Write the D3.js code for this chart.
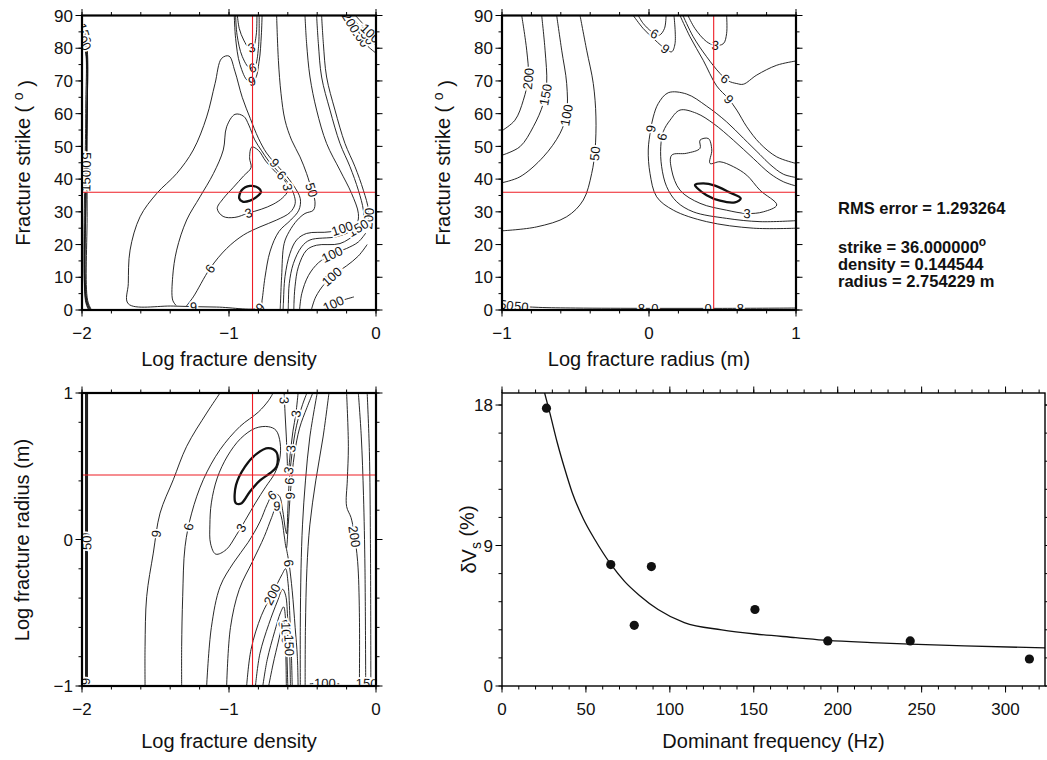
<!DOCTYPE html>
<html><head><meta charset="utf-8">
<script src="https://cdn.jsdelivr.net/npm/d3@7/dist/d3.min.js"></script>
<style>
html,body{margin:0;padding:0;background:#fff;}
svg{display:block;font-family:"Liberation Sans",Arial,Helvetica,sans-serif;}
</style></head><body>
<svg id="chart" width="1047" height="760"></svg>
<script>
// ---------------- data ----------------
const bestStrike = 36.0;
const bestDensity = 0.144544;
const bestRadius = 2.754229;
const rmsError = 1.293264;

const densityTicks = [-2, -1, 0];
const radiusTicks = [-1, 0, 1];
const strikeTicks = [0, 10, 20, 30, 40, 50, 60, 70, 80, 90];
const freqTicks = [0, 50, 100, 150, 200, 250, 300];
const dvsTicks = [0, 9, 18];

// observed shear-wave anisotropy vs dominant frequency
const freqObs = [26.5, 64.8, 78.8, 89.0, 150.7, 194.1, 243.2, 314.2];
const dvsObs  = [17.8, 7.78, 3.89, 7.65, 4.90, 2.89, 2.89, 1.73];
// best-fit model curve
const fitFreq = [25.4, 28.5, 32.9, 37.4, 41.8, 48.5, 55.2, 64.8, 73.0, 81.9, 93.0, 108.6, 130.9, 150.9, 175.0, 194.1, 219.9, 243.2, 275.5, 323.5];
const fitDvs  = [18.77, 17.5, 15.6, 13.9, 12.4, 10.7, 9.4, 7.8, 6.7, 5.8, 4.9, 4.06, 3.6, 3.33, 3.1, 2.92, 2.78, 2.68, 2.57, 2.44];

// misfit contours: [level, [[x, y], ...]]
const strikeDensityContours = [
  [1.5, [[-0.930,34.1],[-0.914,36.6],[-0.857,37.9],[-0.800,37.3],[-0.782,36.1],[-0.812,34.6],[-0.857,33.4],[-0.907,33.1],[-0.930,34.1]]],
  [3, [[-1.08,31],[-1.04,28.6],[-0.96,28.3],[-0.87,29.6],[-0.78,30.8],[-0.70,32.3],[-0.635,34.3],[-0.60,36.5],[-0.62,39.5],[-0.68,42],[-0.75,45.5],[-0.80,48.8],[-0.845,49.8],[-0.86,46.5],[-0.85,43.5],[-0.90,41],[-0.97,37.5],[-1.04,34],[-1.08,31]]],
  [6, [[-1.29,1.2],[-1.243,4.0],[-1.129,12.7],[-1.016,18.8],[-0.902,22.9],[-0.789,25.4],[-0.676,27.5],[-0.585,29.8],[-0.55,32.5],[-0.56,35.5],[-0.60,39],[-0.67,42.5],[-0.73,45.5],[-0.78,48.8],[-0.825,52],[-0.865,56.5],[-0.90,59.2],[-0.959,59.8],[-1.016,56.0],[-1.039,48.9],[-1.106,41.7],[-1.197,34.6],[-1.288,27.5],[-1.356,18.3],[-1.383,10.2],[-1.383,3.0],[-1.36,1.4]]],
  [9, [[-0.785,0.8],[-1.084,0.9],[-1.379,1.2],[-1.685,1.9],[-1.685,8.1],[-1.673,18.3],[-1.605,28.5],[-1.492,35.6],[-1.356,41.7],[-1.243,48.9],[-1.152,59.0],[-1.095,69.2],[-1.050,76.9],[-1.0,77.6],[-0.96,73],[-0.91,65],[-0.855,58.5],[-0.80,52.5],[-0.745,48],[-0.69,45],[-0.625,41.8],[-0.56,38],[-0.515,34],[-0.525,30.5],[-0.58,27.5],[-0.66,24],[-0.72,18],[-0.755,10],[-0.775,3],[-0.785,0.8]]],
  [3, [[-0.943,90],[-0.93,86],[-0.90,82.5],[-0.865,80.2],[-0.835,80.5],[-0.815,84],[-0.81,90]]],
  [6, [[-0.955,90],[-0.945,84],[-0.91,77.5],[-0.86,74],[-0.825,74.5],[-0.80,80],[-0.795,90]]],
  [9, [[-0.964,90],[-0.955,83],[-0.925,75],[-0.87,70],[-0.825,70.5],[-0.795,76],[-0.78,84],[-0.775,90]]],
  [50, [[-0.676,90],[-0.664,76.3],[-0.646,66.1],[-0.619,58.0],[-0.574,51.9],[-0.517,46.8],[-0.472,41.7],[-0.437,36.6],[-0.415,33.1],[-0.426,30.5],[-0.483,29.5],[-0.535,27.5],[-0.59,24],[-0.625,20.3],[-0.642,10.2],[-0.650,2.0],[-0.652,0]]],
  [100, [[-0.483,90],[-0.472,81.4],[-0.449,71.2],[-0.404,61.1],[-0.336,50.9],[-0.245,42.7],[-0.166,35.6],[-0.120,29.5],[-0.131,26.5],[-0.199,25.4],[-0.313,23.9],[-0.472,23.4],[-0.540,21.4],[-0.585,17.3],[-0.619,10.2],[-0.630,2.0],[-0.632,0]]],
  [150, [[-0.404,90],[-0.392,81.4],[-0.370,71.2],[-0.313,61.1],[-0.245,50.9],[-0.177,43.8],[-0.120,36.6],[-0.086,30.5],[-0.086,26.5],[-0.154,24.4],[-0.268,22.4],[-0.449,21.4],[-0.506,19.3],[-0.562,14.2],[-0.590,8.1],[-0.596,2.0],[-0.597,0]]],
  [200, [[-0.370,90],[-0.358,81.4],[-0.336,71.2],[-0.279,61.1],[-0.211,50.9],[-0.143,43.8],[-0.086,36.6],[-0.052,30.5],[-0.063,25.9],[-0.131,23.4],[-0.245,20.3],[-0.404,19.8],[-0.472,18.3],[-0.528,13.2],[-0.551,7.1],[-0.558,2.0],[-0.559,0]]],
  [200, [[-0.20,90],[-0.13,85],[-0.065,81],[0,78.5]]],
  [150, [[-0.17,90],[-0.10,86],[-0.04,82.5],[0,81]]],
  [100, [[-0.14,90],[-0.08,87],[-0.025,84],[0,83.5]]],
  [300, [[-0.52,0],[-0.505,5],[-0.46,10.5],[-0.39,14.5],[-0.30,17],[-0.20,18.8],[-0.12,20.8],[-0.07,23.5]]],
  [500, [[-0.44,0],[-0.41,4],[-0.35,8],[-0.28,11],[-0.20,13.5],[-0.12,16.5],[-0.06,20]]],
  [1000, [[-0.36,0],[-0.31,1.5],[-0.24,2.8],[-0.15,4]]],
  [50, [[-1.935,0],[-1.962,3],[-1.965,30],[-1.965,60],[-1.962,78],[-1.975,83],[-1.995,86]]],
  [100, [[-1.945,0],[-1.970,3],[-1.972,40],[-1.970,78],[-1.985,82],[-2.0,83]]],
  [150, [[-1.955,0],[-1.977,3],[-1.978,80],[-2.0,81.5]]],
  [200, [[-1.950,0],[-1.974,3],[-1.975,60],[-1.976,79],[-2.0,82.2]]],
  [250, [[-1.940,0],[-1.967,3],[-1.968,50],[-1.967,79],[-1.99,84]]]
];
// labels: [contour index, x, y, text]
const strikeDensityLabels = [
  [3,-1.243,1.0,"9"],[2,-1.129,12.7,"6"],[1,-0.87,29.6,"3"],
  [4,-0.85,80.3,"3"],[5,-0.84,74.1,"6"],[6,-0.845,70.1,"9"],
  [7,-0.437,36.6,"50"],[3,-0.69,45.0,"9"],[2,-0.64,41.2,"6"],[1,-0.605,37.5,"3"],
  [10,-0.06,28,"200"],[9,-0.12,25,"150"],[8,-0.23,24.7,"100"],
  [14,-0.30,17,"100"],[15,-0.30,10.8,"200"],[15,-0.31,10.6,"100"],[16,-0.29,1.6,"100"],
  [11,-0.10,83.7,"200"],[12,-0.065,84.4,"150"],[13,-0.04,84.6,"100"],[11,-0.17,88,"200"],
  [17,-1.965,46,"50"],[18,-1.971,42.5,"100"],[19,-1.978,39.5,"150"],[17,-1.975,84.5,"150"],[18,-1.99,82.6,"100"],
  [3,-0.79,0.8,"9"]
];

const strikeRadiusContours = [
  [1.5, [[0.313,38.2],[0.369,38.7],[0.449,38.0],[0.540,36.1],[0.624,34.1],[0.585,32.9],[0.483,33.4],[0.392,35.1],[0.329,37.2],[0.313,38.2]]],
  [3, [[0.154,47.3],[0.256,47.9],[0.347,49.4],[0.347,51.9],[0.404,52.4],[0.427,48.9],[0.415,44.8],[0.483,45.3],[0.574,43.8],[0.665,41.2],[0.755,36.6],[0.869,32.1],[0.778,30.0],[0.665,29.5],[0.528,30.5],[0.347,32.6],[0.211,36.6],[0.154,42.8],[0.154,47.3]]],
  [6, [[1.0,37.9],[0.914,39.2],[0.823,41.7],[0.710,46.3],[0.574,51.9],[0.438,57.0],[0.324,60.1],[0.211,61.1],[0.143,58.0],[0.097,54.5],[0.080,49.9],[0.086,43.8],[0.120,37.7],[0.188,33.1],[0.301,30.0],[0.528,28.0],[0.755,27.0],[1.0,27.3]]],
  [9, [[1.0,40.5],[0.914,41.5],[0.823,44.5],[0.755,47.5],[0.642,52.5],[0.528,57.5],[0.392,62.3],[0.256,66.0],[0.131,66.4],[0.063,63.1],[0.029,59.0],[0.011,55.0],[-0.005,48.9],[0.007,41.7],[0.052,34.6],[0.166,30.5],[0.392,27.0],[0.710,25.0],[1.0,25.0]]],
  [6, [[-0.073,90],[-0.04,87.6],[0.02,85.0],[0.07,84.0],[0.105,86.0],[0.116,90]]],
  [9, [[-0.107,90],[-0.039,86.0],[0.041,82.5],[0.109,79.9],[0.154,78.9],[0.177,81.4],[0.170,90]]],
  [3, [[0.265,90],[0.313,86.0],[0.392,82.0],[0.449,80.9],[0.506,81.4],[0.528,84.5],[0.528,90]]],
  [6, [[0.231,90],[0.301,83.5],[0.392,77.4],[0.483,72.3],[0.540,70.0],[0.597,69.2],[0.642,69.0],[0.733,71.8],[0.869,74.8],[1.0,76.1]]],
  [9, [[0.211,90],[0.279,83.5],[0.369,76.3],[0.460,68.5],[0.540,64.6],[0.597,61.1],[0.665,56.0],[0.755,50.9],[0.869,46.8],[1.0,44.8]]],
  [200, [[-0.866,90],[-0.832,79.4],[-0.821,71.3],[-0.855,64.1],[-0.912,58.0],[-1.0,54.8]]],
  [150, [[-0.730,90],[-0.707,79.4],[-0.696,69.2],[-0.719,63.1],[-0.787,56.0],[-0.878,49.9],[-1.0,47.3]]],
  [100, [[-0.628,90],[-0.594,79.4],[-0.560,69.2],[-0.560,60.1],[-0.605,54.0],[-0.719,46.8],[-0.878,40.7],[-1.0,38.9]]],
  [50, [[-0.469,90],[-0.424,79.4],[-0.379,69.2],[-0.361,59.0],[-0.367,48.9],[-0.390,41.7],[-0.447,33.6],[-0.560,28.5],[-0.764,25.4],[-1.0,24.2]]],
  [50, [[-1.0,1.8],[-0.9,1.2],[-0.75,0.8],[-0.5,0.6],[0,0.5],[0.5,0.5],[1.0,0.6]]]
];
const strikeRadiusLabels = [
  [1,0.665,29.5,"3"],[2,0.086,52.9,"6"],[3,0.011,55.5,"9"],[4,0.04,84.5,"6"],[5,0.11,79.9,"9"],
  [6,0.45,80.9,"3"],[7,0.52,70.8,"6"],[8,0.55,64.6,"9"],
  [9,-0.81,70.6,"200"],[10,-0.70,65.7,"150"],[11,-0.56,59.6,"100"],[12,-0.367,47.8,"50"],
  [13,-0.87,1.3,"50"],[13,-0.97,1.6,"50"],[13,-0.05,0.5,"8"],[13,0.04,0.5,"0"],[13,0.40,0.5,"0"],[13,0.62,0.5,"8"]
];

const radiusDensityContours = [
  [1.5, [[-0.959,0.259],[-0.952,0.373],[-0.891,0.498],[-0.812,0.585],[-0.733,0.624],[-0.676,0.594],[-0.676,0.498],[-0.721,0.453],[-0.789,0.403],[-0.857,0.328],[-0.914,0.248],[-0.948,0.244],[-0.959,0.259]]],
  [3, [[-0.732,0.77],[-0.68,0.745],[-0.652,0.66],[-0.655,0.55],[-0.69,0.45],[-0.75,0.36],[-0.82,0.25],[-0.89,0.13],[-0.95,0.03],[-1.02,-0.07],[-1.09,-0.10],[-1.125,-0.03],[-1.13,0.10],[-1.12,0.25],[-1.08,0.42],[-1.01,0.57],[-0.92,0.69],[-0.82,0.76],[-0.732,0.77]]],
  [6, [[-1.322,-1],[-1.322,-0.731],[-1.315,-0.390],[-1.299,-0.048],[-1.254,0.180],[-1.175,0.408],[-1.061,0.613],[-0.925,0.772],[-0.80,0.87],[-0.73,0.95],[-0.70,1.0]]],
  [9, [[-1.571,-1],[-1.571,-0.731],[-1.560,-0.390],[-1.515,-0.093],[-1.469,0.180],[-1.379,0.408],[-1.288,0.636],[-1.152,0.863],[-1.061,1.0]]],
  [6, [[-1.152,-1],[-1.12,-0.6],[-1.06,-0.32],[-0.97,-0.16],[-0.87,-0.02],[-0.79,0.12],[-0.74,0.24],[-0.70,0.31],[-0.66,0.30],[-0.635,0.2],[-0.618,0.08],[-0.608,0.04],[-0.600,0.2],[-0.59,0.4],[-0.57,0.6],[-0.54,0.78],[-0.50,0.92],[-0.47,1.0]]],
  [9, [[-1.016,-1],[-0.99,-0.6],[-0.93,-0.34],[-0.84,-0.15],[-0.76,0.02],[-0.71,0.15],[-0.675,0.23],[-0.645,0.16],[-0.625,0.03],[-0.610,-0.06],[-0.597,0.1],[-0.58,0.35],[-0.555,0.58],[-0.52,0.76],[-0.47,0.9],[-0.43,1.0]]],
  [3, [[-0.625,1],[-0.618,0.85],[-0.61,0.7],[-0.604,0.55],[-0.600,0.45],[-0.592,0.5],[-0.58,0.62],[-0.565,0.74],[-0.545,0.86],[-0.53,1]]],
  [200, [[-0.88,-1],[-0.85,-0.75],[-0.78,-0.52],[-0.70,-0.36],[-0.64,-0.24],[-0.615,-0.2],[-0.598,-0.3],[-0.585,-0.55],[-0.575,-0.8],[-0.57,-1]]],
  [150, [[-0.82,-1],[-0.79,-0.78],[-0.73,-0.58],[-0.67,-0.42],[-0.635,-0.34],[-0.615,-0.38],[-0.60,-0.55],[-0.588,-0.75],[-0.582,-1]]],
  [100, [[-0.77,-1],[-0.74,-0.82],[-0.69,-0.63],[-0.65,-0.5],[-0.628,-0.46],[-0.615,-0.55],[-0.607,-0.75],[-0.60,-1]]],
  [50, [[-0.73,-1],[-0.70,-0.85],[-0.665,-0.7],[-0.64,-0.6],[-0.625,-0.58],[-0.617,-0.68],[-0.612,-0.85],[-0.61,-1]]],
  [6, [[-0.61,-0.06],[-0.592,-0.16],[-0.57,-0.35],[-0.55,-0.6],[-0.535,-0.8],[-0.53,-1]]],
  [200, [[-0.20,1],[-0.188,0.636],[-0.195,0.408],[-0.20,0.226],[-0.17,0.15],[-0.15,0.05],[-0.125,-0.15],[-0.113,-0.5],[-0.113,-1]]],
  [100, [[-0.40,1],[-0.45,0.7],[-0.48,0.4],[-0.50,0.1],[-0.51,-0.2],[-0.515,-0.6],[-0.515,-1]]],
  [150, [[-0.32,1],[-0.36,0.7],[-0.41,0.4],[-0.45,0.1],[-0.47,-0.2],[-0.48,-0.6],[-0.482,-1]]],
  [150, [[-0.12,1],[-0.10,0.7],[-0.085,0.3],[-0.075,-0.2],[-0.07,-1]]],
  [100, [[-0.06,1],[-0.045,0.6],[-0.038,0],[-0.035,-1]]],
  [50, [[-1.976,-1],[-1.976,1]]],
  [100, [[-1.970,-1],[-1.968,1]]],
  [150, [[-1.963,-1],[-1.962,1]]],
  [150, [[-0.45,-0.985],[-0.35,-0.98],[-0.25,-0.985]]],
  [100, [[-0.12,-0.985],[-0.06,-0.98],[0,-0.985]]],
  [200, [[-1.973,-1],[-1.972,1]]],
  [250, [[-1.966,-1],[-1.965,1]]]
];
const radiusDensityLabels = [
  [1,-0.937,0.089,"3"],[2,-1.288,0.089,"6"],[3,-1.515,0.043,"9"],[4,-0.72,0.317,"6"],[5,-0.671,0.237,"9"],
  [6,-0.55,0.86,"3"],[6,-0.58,0.62,"3"],[6,-0.62,0.95,"3"],
  [5,-0.585,0.30,"9"],[4,-0.592,0.40,"6"],[6,-0.598,0.47,"3"],
  [7,-0.676,-0.39,"200"],[10,-0.615,-0.6,"50"],[9,-0.61,-0.64,"100"],[8,-0.588,-0.72,"150"],
  [11,-0.585,-0.162,"6"],[12,-0.154,0.02,"200"],
  [17,-1.97,0.0,"60"],[18,-1.968,-0.02,"50"],[17,-1.97,-0.97,"9"],
  [20,-0.347,-0.98,"150"],[20,-0.35,-0.98,"100"],[21,-0.063,-0.98,"100"],[21,-0.04,-0.98,"50"]
];

// ---------------- rendering ----------------
const svg = d3.select("#chart");
const RED = "#ee1c25";
const fmtNum = v => (v < 0 ? "\u2212" + Math.abs(v) : String(v));
let clipId = 0;

function drawFrame(g, xs, ys, w, h, xMaj, xMinStep, yMaj, yMinStep, sw) {
  const t = g.append("g").attr("stroke", "#000").attr("stroke-width", 1);
  const [x0, x1] = xs.domain(), [y0, y1] = ys.domain();
  const xMin = d3.range(0, Math.floor((x1 - x0) / xMinStep + 1e-6) + 1).map(i => x0 + i * xMinStep);
  const yMin = d3.range(0, Math.floor((y1 - y0) / yMinStep + 1e-6) + 1).map(i => y0 + i * yMinStep);
  const seg = (a, b, c, d) => t.append("line").attr("x1", a).attr("y1", b).attr("x2", c).attr("y2", d);
  xMin.forEach(v => { const p = xs(v); seg(p, h, p, h + 3.5); seg(p, 0, p, -3.5); });
  yMin.forEach(v => { const p = ys(v); seg(0, p, -3.5, p); seg(w, p, w + 3.5, p); });
  xMaj.forEach(v => { const p = xs(v); seg(p, h, p, h + 6.5); seg(p, 0, p, -6.5); });
  yMaj.forEach(v => { const p = ys(v); seg(0, p, -6.5, p); seg(w, p, w + 6.5, p); });
  const lab = g.append("g").attr("font-size", 17).attr("fill", "#111");
  xMaj.forEach(v => lab.append("text").attr("x", xs(v)).attr("y", h + 29).attr("text-anchor", "middle").text(fmtNum(v)));
  yMaj.forEach(v => lab.append("text").attr("x", -9).attr("y", ys(v)).attr("dy", "0.36em").attr("text-anchor", "end").text(fmtNum(v)));
  g.append("rect").attr("width", w).attr("height", h).attr("fill", "none").attr("stroke", "#000").attr("stroke-width", sw);
}

function clipGroup(g, w, h) {
  const id = "clip" + (clipId++);
  svg.append("defs").append("clipPath").attr("id", id).append("rect").attr("width", w).attr("height", h);
  return g.append("g").attr("clip-path", `url(#${id})`);
}

function contourPanel(cfg) {
  const g = svg.append("g").attr("transform", `translate(${cfg.left},${cfg.top})`);
  const xs = d3.scaleLinear().domain(cfg.xd).range([0, cfg.w]);
  const ys = d3.scaleLinear().domain(cfg.yd).range([cfg.h, 0]);
  const inner = clipGroup(g, cfg.w, cfg.h);
  const openLine = d3.line().x(d => xs(d[0])).y(d => ys(d[1])).curve(d3.curveCatmullRom.alpha(0.5));
  const closedLine = d3.line().x(d => xs(d[0])).y(d => ys(d[1])).curve(d3.curveCatmullRomClosed.alpha(0.5));
  const nodes = cfg.contours.map(([lev, pts]) => {
    const f = pts[0], l = pts[pts.length - 1];
    const closed = pts.length > 3 && f[0] === l[0] && f[1] === l[1];
    const dstr = closed ? closedLine(pts.slice(0, -1)) : openLine(pts);
    return inner.append("path").attr("d", dstr).attr("fill", "none")
      .attr("stroke", "#111").attr("stroke-width", lev < 2 ? 2.3 : 0.9)
      .attr("stroke-linejoin", "round").node();
  });
  const lg = inner.append("g").attr("font-size", 13).attr("fill", "#111");
  cfg.labels.forEach(([i, lx, ly, txt]) => {
    const node = nodes[i];
    const L = node.getTotalLength();
    const tx = xs(lx), ty = ys(ly);
    let best = 0, bd = Infinity;
    for (let s = 0; s <= L; s += 0.75) {
      const p = node.getPointAtLength(s);
      const d = (p.x - tx) ** 2 + (p.y - ty) ** 2;
      if (d < bd) { bd = d; best = s; }
    }
    const p = node.getPointAtLength(best);
    const a = node.getPointAtLength(Math.max(0, best - 5));
    const b = node.getPointAtLength(Math.min(L, best + 5));
    let ang = Math.atan2(b.y - a.y, b.x - a.x) * 180 / Math.PI;
    if (ang > 90) ang -= 180;
    if (ang < -90) ang += 180;
    lg.append("text").attr("transform", `translate(${p.x},${p.y}) rotate(${ang})`)
      .attr("text-anchor", "middle").attr("dy", "0.36em")
      .attr("stroke", "#fff").attr("stroke-width", 3.5).attr("paint-order", "stroke")
      .text(txt);
  });
  inner.append("line").attr("x1", xs(cfg.best[0])).attr("x2", xs(cfg.best[0])).attr("y1", 0).attr("y2", cfg.h)
    .attr("stroke", RED).attr("stroke-width", 1.1);
  inner.append("line").attr("y1", ys(cfg.best[1])).attr("y2", ys(cfg.best[1])).attr("x1", 0).attr("x2", cfg.w)
    .attr("stroke", RED).attr("stroke-width", 1.1);
  drawFrame(g, xs, ys, cfg.w, cfg.h, cfg.xMaj, cfg.xMin, cfg.yMaj, cfg.yMin, 2.2);
  return g;
}

function xTitle(x, y, txt) {
  svg.append("text").attr("x", x).attr("y", y).attr("text-anchor", "middle").attr("font-size", 20).attr("fill", "#111").text(txt);
}
function yTitle(x, y) {
  return svg.append("text").attr("transform", `translate(${x},${y}) rotate(-90)`).attr("text-anchor", "middle")
    .attr("font-size", 20).attr("fill", "#111");
}
function strikeTitle(x, y) {
  const t = yTitle(x, y);
  t.append("tspan").text("Fracture strike ( ");
  t.append("tspan").attr("font-size", 14).attr("dy", "-0.5em").text("o");
  t.append("tspan").attr("dy", "0.5em").text(" )");
}

const logD = Math.log10(bestDensity), logR = Math.log10(bestRadius);

contourPanel({left: 82, top: 15.5, w: 294, h: 294.5, xd: [-2, 0], yd: [0, 90],
  xMaj: densityTicks, xMin: 0.2, yMaj: strikeTicks, yMin: 5,
  contours: strikeDensityContours, labels: strikeDensityLabels, best: [logD, bestStrike]});
xTitle(229, 366, "Log fracture density");
strikeTitle(30, 163);

contourPanel({left: 502, top: 15.5, w: 294, h: 294.5, xd: [-1, 1], yd: [0, 90],
  xMaj: radiusTicks, xMin: 0.2, yMaj: strikeTicks, yMin: 5,
  contours: strikeRadiusContours, labels: strikeRadiusLabels, best: [logR, bestStrike]});
xTitle(649, 366, "Log fracture radius (m)");
strikeTitle(450, 163);

contourPanel({left: 82, top: 393, w: 294, h: 293, xd: [-2, 0], yd: [-1, 1],
  xMaj: densityTicks, xMin: 0.2, yMaj: radiusTicks, yMin: 0.2,
  contours: radiusDensityContours, labels: radiusDensityLabels, best: [logD, logR]});
xTitle(229, 748, "Log fracture density");
yTitle(29, 540).text("Log fracture radius (m)");

(function () {
  const left = 502, top = 393, w = 543, h = 293;
  const g = svg.append("g").attr("transform", `translate(${left},${top})`);
  const xs = d3.scaleLinear().domain([0, 323.5]).range([0, w]);
  const ys = d3.scaleLinear().domain([0, 18.77]).range([h, 0]);
  const inner = clipGroup(g, w, h);
  const fit = fitFreq.map((f, i) => [f, fitDvs[i]]);
  inner.append("path").attr("d", d3.line().x(d => xs(d[0])).y(d => ys(d[1])).curve(d3.curveMonotoneX)(fit))
    .attr("fill", "none").attr("stroke", "#111").attr("stroke-width", 1.3);
  inner.selectAll("circle").data(freqObs.map((f, i) => [f, dvsObs[i]])).join("circle")
    .attr("cx", d => xs(d[0])).attr("cy", d => ys(d[1])).attr("r", 4.6).attr("fill", "#111");
  drawFrame(g, xs, ys, w, h, freqTicks, 10, dvsTicks, 1.8, 1.4);
  xTitle(left + w / 2, 748, "Dominant frequency (Hz)");
  const t = yTitle(476, top + h / 2);
  t.append("tspan").text("\u03B4V");
  t.append("tspan").attr("font-size", 14).attr("dy", "0.35em").text("s");
  t.append("tspan").attr("dy", "-0.35em").text(" (%)");
})();

const info = svg.append("g").attr("font-size", 16.5).attr("font-weight", "bold").attr("fill", "#111");
info.append("text").attr("x", 838).attr("y", 214).text("RMS error = " + rmsError.toFixed(6));
const st = info.append("text").attr("x", 838).attr("y", 253);
st.append("tspan").text("strike = " + bestStrike.toFixed(6));
st.append("tspan").attr("font-size", 12).attr("dy", "-0.55em").text("o");
info.append("text").attr("x", 838).attr("y", 270).text("density = " + bestDensity.toFixed(6));
info.append("text").attr("x", 838).attr("y", 287).text("radius = " + bestRadius.toFixed(6) + " m");
</script>
</body></html>
